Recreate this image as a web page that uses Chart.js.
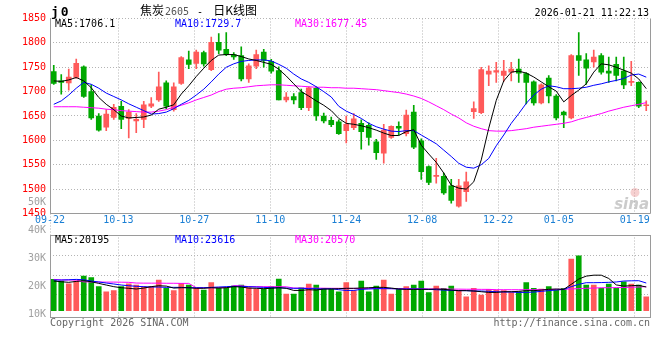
<!DOCTYPE html>
<html><head><meta charset="utf-8">
<script src="https://cdn.jsdelivr.net/npm/chart.js@4/dist/chart.umd.min.js"></script>
<style>html,body{margin:0;padding:0;background:#fff;overflow:hidden}canvas{display:block}</style>
</head><body>
<canvas id="c" width="660" height="360" style="width:660px;height:360px"></canvas>
<script>
// ---------------- data ----------------
const dates = [
 '09-22','09-23','09-24','09-25','09-26','09-29','09-30','10-09','10-10','10-13',
 '10-14','10-15','10-16','10-17','10-20','10-21','10-22','10-23','10-24','10-27',
 '10-28','10-29','10-30','10-31','11-03','11-04','11-05','11-06','11-07','11-10',
 '11-11','11-12','11-13','11-14','11-17','11-18','11-19','11-20','11-21','11-24',
 '11-25','11-26','11-27','11-28','12-01','12-02','12-03','12-04','12-05','12-08',
 '12-09','12-10','12-11','12-12','12-15','12-16','12-17','12-18','12-19','12-22',
 '12-23','12-24','12-25','12-26','12-29','12-30','12-31','01-05','01-06','01-07',
 '01-08','01-09','01-12','01-13','01-14','01-15','01-16','01-19','01-20','01-21'];
const opens = [
 1741,1722,1718,1729,1751,1700,1650,1627,1647,1670,
 1645,1640,1643,1670,1683,1718,1663,1717,1765,1758,
 1780,1745,1801,1787,1776,1774,1726,1752,1781,1762,
 1743,1683,1690,1698,1667,1707,1650,1641,1638,1620,
 1626,1635,1631,1597,1574,1606,1629,1614,1658,1599,
 1546,1526,1526,1507,1465,1495,1659,1657,1736,1740,
 1733,1740,1746,1737,1720,1677,1728,1691,1658,1646,
 1774,1765,1761,1774,1742,1756,1742,1719,1719,1671];
const highs = [
 1754,1735,1746,1767,1753,1714,1655,1663,1674,1680,
 1663,1655,1680,1688,1740,1722,1718,1772,1783,1785,
 1783,1812,1819,1821,1780,1792,1757,1785,1787,1766,
 1751,1698,1696,1705,1710,1710,1656,1648,1642,1650,
 1655,1642,1636,1602,1633,1630,1638,1662,1672,1603,
 1548,1563,1533,1520,1520,1535,1679,1750,1753,1760,
 1764,1760,1767,1739,1722,1716,1733,1694,1660,1776,
 1821,1778,1785,1778,1771,1771,1771,1762,1720,1681];
const lows = [
 1715,1695,1703,1727,1688,1643,1619,1620,1643,1624,
 1605,1616,1626,1667,1680,1665,1660,1715,1747,1747,
 1752,1743,1778,1774,1766,1722,1719,1747,1750,1738,
 1683,1679,1675,1663,1661,1641,1636,1628,1612,1595,
 1622,1582,1590,1561,1553,1604,1611,1609,1583,1520,
 1509,1512,1489,1471,1463,1475,1645,1655,1712,1719,
 1721,1722,1719,1675,1672,1675,1677,1642,1626,1644,
 1733,1715,1750,1736,1719,1722,1706,1712,1667,1661];
const closes = [
 1717,1719,1730,1758,1690,1646,1621,1654,1668,1643,
 1658,1643,1673,1675,1710,1670,1710,1770,1756,1781,
 1757,1801,1785,1776,1771,1726,1753,1776,1764,1742,
 1683,1689,1683,1667,1708,1650,1640,1632,1614,1633,
 1644,1618,1606,1575,1621,1629,1625,1652,1586,1536,
 1514,1528,1492,1477,1507,1515,1665,1745,1742,1743,
 1742,1746,1738,1719,1677,1714,1691,1646,1652,1774,
 1764,1748,1771,1740,1738,1733,1714,1721,1670,1672];
const ma5 = [
 1722,1721,1724,1729,1722,1708,1688,1674,1663,1650,
 1646,1647,1648,1652,1664,1668,1673,1695,1712,1731,
 1748,1764,1775,1776,1776,1772,1767,1764,1760,1756,
 1746,1732,1716,1700,1691,1681,1672,1661,1645,1635,
 1633,1630,1626,1621,1615,1610,1610,1618,1622,1590,
 1572,1555,1533,1508,1502,1500,1515,1560,1625,1682,
 1722,1740,1742,1738,1730,1720,1710,1701,1679,1692,
 1703,1716,1740,1757,1755,1750,1744,1738,1726,1706.1];
const ma10 = [
 1674,1681,1693,1707,1719,1715,1707,1697,1690,1683,
 1675,1668,1661,1654,1655,1658,1665,1674,1682,1693,
 1705,1720,1736,1750,1757,1762,1764,1765,1765,1763,
 1756,1748,1736,1726,1719,1710,1700,1689,1670,1660,
 1653,1645,1635,1628,1623,1619,1618,1620,1620,1611,
 1602,1593,1580,1567,1553,1545,1543,1550,1563,1589,
 1611,1635,1655,1676,1693,1705,1712,1710,1706,1706,
 1707,1709,1713,1716,1720,1723,1727,1734,1736,1729.7];
const ma30 = [
 1669,1669,1669,1669,1668,1667,1666,1664,1663,1661,
 1660,1659,1658,1658,1660,1663,1668,1672,1677,1683,
 1688,1693,1700,1705,1707,1708,1710,1712,1713,1714,
 1714,1713,1712,1711,1710,1709,1709,1708,1708,1707,
 1707,1706,1705,1704,1702,1700,1698,1695,1691,1686,
 1679,1671,1663,1654,1646,1636,1629,1624,1620,1619,
 1619,1620,1622,1624,1627,1629,1631,1633,1635,1638,
 1643,1647,1651,1655,1660,1664,1668,1671,1674,1677.45];
const volumes = [
 26700,25300,23000,25300,29600,28200,20500,16200,17100,20500,
 23000,21900,20500,20500,26200,19100,17100,23300,21900,19100,
 17600,23900,19600,19600,21000,21900,19600,18500,18500,20500,
 27000,14200,14200,19600,22800,21900,19100,18200,16200,23900,
 17100,25300,16200,21000,26200,14200,18200,20500,21900,25300,
 15400,21000,19100,21000,17100,11900,19100,13400,18200,17600,
 17100,15400,16200,23900,19100,18500,20500,17600,19100,44100,
 46900,21900,21900,19100,22800,19100,24700,22800,21900,11900];
const volMa5 = [
 25300,24700,24200,25000,25600,24700,23300,21900,20500,19600,
 19100,18500,19300,20500,21300,21000,19300,19600,19600,19100,
 19100,19600,19300,19600,20500,20200,19300,19100,18800,19100,
 19600,19100,17300,17300,17900,17600,18500,18500,18800,19100,
 19100,19300,19600,19900,19900,19300,18500,18200,18200,18200,
 18200,18500,18200,17600,17100,17100,16800,16200,15600,15600,
 16200,16200,16500,17100,17100,17600,18200,18500,18200,22500,
 27000,29500,30300,30300,27500,22000,21000,21300,21600,20195];
const volMa10 = [
 26200,26200,26400,26700,26400,25300,24500,23600,22800,21900,
 21300,20800,20500,20200,20200,19900,19900,19900,19600,19600,
 19600,19900,20200,20500,20800,20800,20500,20200,19900,19600,
 19600,19300,19100,19100,18800,18800,18500,18800,17900,17300,
 17300,18200,18500,18800,18800,18800,18500,18500,18500,18500,
 18200,17900,17600,17300,17100,17100,16800,16800,16500,16200,
 15900,15900,15600,15600,15900,16500,17100,17600,18200,20500,
 22500,23900,23900,24000,24200,24500,25300,25500,25600,23616];
const volMa30 = [
 26700,26200,26200,26100,24600,24500,24500,24400,24400,24300,
 24200,23600,23500,23500,23500,23400,23400,23300,23300,19600,
 19600,19600,19700,19700,21300,21300,20500,20500,20500,20500,
 20500,20400,19300,19300,19300,19200,19200,19100,19100,19000,
 19000,19000,18900,18900,18900,18800,18800,18800,18700,18700,
 18600,18500,18500,18400,18400,18300,18300,18200,18200,17900,
 17900,17900,17900,17900,17900,18000,18100,18200,18300,18500,
 18800,19100,19300,19600,19600,19700,19800,20000,20200,20570];
const priceTicks = [1850,1800,1750,1700,1650,1600,1550,1500,1450];
const dateTicks = ['09-22','10-13','10-27','11-10','11-24','12-08','12-22','01-05','01-19'];
const volAxisLabels = ['50K','40K','30K','20K','10K'];
const volAxisValues = [50000,40000,30000,20000,10000];
const volGridTicks = [47500,30450,13400];
const priceLegend = ['MA5:1706.1','MA10:1729.7','MA30:1677.45'];
const volLegend = ['MA5:20195','MA10:23616','MA30:20570'];
const titleParts = ['焦炭','2605',' - ','日K线图'];
const symbolText = 'j0';
const timeText = '2026-01-21 11:22:13';
const copyrightText = 'Copyright 2026 SINA.COM';
const urlText = 'http://finance.sina.com.cn';

// ---------------- layout / style ----------------
const AREA_LEFT = 50, AREA_RIGHT = 650, AREA_TOP = 18.5, AREA_BOTTOM = 317.5;
const PRICE_HIGH = 1850, PRICE_LOW = 1450, PRICE_BOTTOM_PX = 213.5;
const VOL_TOP_PX = 235, VOL_ZERO_PX = 310.7, VOL_PER_PX = 853;
const LAB_PX_PER_UNIT = 27.93/10000, LAB_REF_VAL = 30000, LAB_REF_PX = 258.3;
const LABEL_RIGHT = 46; // right edge of the left-side tick labels

const pxPerPrice = (PRICE_BOTTOM_PX - AREA_TOP)/(PRICE_HIGH - PRICE_LOW);
const priceMin = PRICE_HIGH - (AREA_BOTTOM - AREA_TOP)/pxPerPrice;
const volMax = (VOL_ZERO_PX - AREA_TOP)*VOL_PER_PX;
const volMin = -(AREA_BOTTOM - VOL_ZERO_PX)*VOL_PER_PX;
const volPanelTop = (VOL_ZERO_PX - VOL_TOP_PX)*VOL_PER_PX;
const labMax = LAB_REF_VAL + (LAB_REF_PX - AREA_TOP)/LAB_PX_PER_UNIT;
const labMin = LAB_REF_VAL - (AREA_BOTTOM - LAB_REF_PX)/LAB_PX_PER_UNIT;

const MONO = '"DejaVu Sans Mono","Liberation Mono",monospace';
const CJK = '"Noto Sans CJK SC","Noto Sans",sans-serif';
const UP = '#ff5a5a', DOWN = '#00a800';
const GRID = '#b4b4b4', FRAME = '#9a9a9a';
const MA_COLORS = ['#000000','#0000ff','#ff00ff'];
const candleColors = opens.map((o,i) => closes[i] >= o ? UP : DOWN);
const CHAR_W = 6.02; // monospace advance at 10px

function lineDs(label, data, axis, color){
  return {type:'line', label, data, xAxisID:'x', yAxisID:axis, borderColor:color,
    borderWidth:1, pointRadius:0, tension:0, fill:false, order:0};
}
const zeroWidth = (s) => { s.width = 0; };
// mirrored labels (not clipped) placed left of the plot, left-aligned so right edge ≈ LABEL_RIGHT
const leftPad = (chars) => -(AREA_LEFT - (LABEL_RIGHT - chars*CHAR_W));

const panels = {
  id:'panels',
  beforeDraw(chart){
    const c = chart.ctx; c.save(); c.fillStyle='#fff'; c.fillRect(0,0,chart.width,chart.height); c.restore();
  },
  beforeDatasetsDraw(chart){
    const {ctx, chartArea:a, scales} = chart;
    const y1 = scales.y.getPixelForValue(PRICE_LOW), y2 = scales.yv.getPixelForValue(volPanelTop);
    ctx.save(); ctx.fillStyle='#fff';
    ctx.fillRect(a.left+1, Math.floor(y1)+1, a.right-a.left, Math.floor(y2)-Math.floor(y1)-1);
    ctx.restore();
  },
  afterDatasetsDraw(chart){
    const {ctx, chartArea:a, scales} = chart;
    const L = Math.floor(a.left)+0.5, R = Math.floor(a.right)+0.5;
    const top = Math.floor(scales.y.getPixelForValue(PRICE_HIGH))+0.5;
    const yb = Math.floor(scales.y.getPixelForValue(PRICE_LOW))+0.5;
    const vt = Math.floor(scales.yv.getPixelForValue(volPanelTop))+0.5;
    const vb = Math.floor(a.bottom)+0.5;
    ctx.save(); ctx.strokeStyle = FRAME; ctx.lineWidth = 1;
    ctx.beginPath();
    ctx.moveTo(L, top); ctx.lineTo(L, yb); ctx.lineTo(R, yb); ctx.lineTo(R, top);
    ctx.stroke();
    ctx.strokeRect(L, vt, R-L, vb-vt);
    ctx.restore();
  },
  afterDraw(chart){
    const {ctx, chartArea:a, scales} = chart;
    ctx.save();
    ctx.textBaseline = 'alphabetic'; ctx.textAlign = 'left';
    ctx.fillStyle = '#000'; ctx.font = 'bold 13px '+MONO;
    ctx.letterSpacing = '2px';
    ctx.fillText(symbolText, 51, 15.5);
    ctx.letterSpacing = '0px';
    let x = 140;
    ctx.font = '12px '+CJK; ctx.fillStyle='#000'; ctx.fillText(titleParts[0], x, 15); x += ctx.measureText(titleParts[0]).width + 1;
    ctx.font = '10px '+MONO; ctx.fillStyle='#555'; ctx.fillText(titleParts[1], x, 15); x += ctx.measureText(titleParts[1]).width;
    ctx.fillStyle='#000'; ctx.fillText(titleParts[2], x+2, 15); x += ctx.measureText(titleParts[2]).width + 6;
    ctx.font = '12px '+CJK; ctx.fillText(titleParts[3], x, 15);
    ctx.font = '10px '+MONO; ctx.textAlign='right'; ctx.fillStyle='#000';
    ctx.fillText(timeText, 649, 15.5);
    ctx.textAlign='left';
    const lx = [a.left+5, a.left+125, a.left+245];
    const yTop = scales.y.getPixelForValue(PRICE_HIGH);
    const vTop = scales.yv.getPixelForValue(volPanelTop);
    priceLegend.forEach((t,i)=>{ ctx.fillStyle = MA_COLORS[i]; ctx.fillText(t, lx[i], yTop+8.8); });
    volLegend.forEach((t,i)=>{ ctx.fillStyle = MA_COLORS[i]; ctx.fillText(t, lx[i], vTop+7.5); });
    ctx.fillStyle = '#666';
    ctx.fillText(copyrightText, a.left, 326);
    ctx.textAlign='right';
    ctx.fillText(urlText, a.right, 326);
    const wy = scales.y.getPixelForValue(PRICE_LOW);
    ctx.fillStyle = 'rgba(235,150,150,0.45)';
    ctx.beginPath(); ctx.arc(a.right-15, wy-21, 4.5, 0, Math.PI*2); ctx.fill();
    ctx.fillStyle = 'rgba(160,160,160,0.55)';
    ctx.font = 'italic bold 15px "DejaVu Sans",sans-serif';
    ctx.fillText('sina', a.right-1, wy-5);
    ctx.restore();
  }
};

new Chart(document.getElementById('c').getContext('2d'), {
  type:'bar',
  data:{
    labels: dates,
    datasets:[
      lineDs('MA5', ma5, 'y', MA_COLORS[0]),
      lineDs('MA10', ma10, 'y', MA_COLORS[1]),
      lineDs('MA30', ma30, 'y', MA_COLORS[2]),
      {label:'body', data: opens.map((o,i)=>[o, closes[i]]), backgroundColor: candleColors,
        xAxisID:'x', yAxisID:'y', barThickness:5, grouped:false, minBarLength:1, borderWidth:0, order:1},
      {label:'wick', data: lows.map((l,i)=>[l, highs[i]]), backgroundColor: candleColors,
        xAxisID:'x', yAxisID:'y', barThickness:1, grouped:false, borderWidth:0, order:2},
      lineDs('VMA5', volMa5, 'yv', MA_COLORS[0]),
      lineDs('VMA10', volMa10, 'yv', MA_COLORS[1]),
      lineDs('VMA30', volMa30, 'yv', MA_COLORS[2]),
      {label:'volume', data: volumes, backgroundColor: candleColors,
        xAxisID:'x', yAxisID:'yv', barThickness:5, grouped:false, borderWidth:0, order:3}
    ]
  },
  options:{
    responsive:false, animation:false, devicePixelRatio:1, events:[],
    layout:{padding:{left:AREA_LEFT, right:660-AREA_RIGHT, top:AREA_TOP, bottom:360-AREA_BOTTOM}},
    plugins:{legend:{display:false}, tooltip:{enabled:false}, title:{display:false}},
    scales:{
      x:{type:'category', display:false, offset:true},
      xd:{type:'linear', axis:'x', min:0, max:dates.length-1, position:{y:PRICE_LOW}, offset:false,
        grid:{color:GRID, drawTicks:false, z:-1, offset:false}, border:{display:false, dash:[1,2]},
        ticks:{z:1, color:'#1a7fd4', font:{family:MONO, size:10}, padding:1, autoSkip:false, maxRotation:0,
          callback:(v)=>dates[v]},
        afterBuildTicks:(s)=>{ s.ticks = dateTicks.map(d=>({value:dates.indexOf(d)})); }},
      y:{type:'linear', position:'left', min:priceMin, max:PRICE_HIGH,
        grid:{color:GRID, drawTicks:false}, border:{display:false, dash:[1,2]},
        ticks:{color:'#ff0000', font:{family:MONO, size:10}, mirror:true, padding:leftPad(4), autoSkip:false,
          callback:(v)=>String(v)},
        afterBuildTicks:(s)=>{ s.ticks = priceTicks.map(v=>({value:v})); },
        afterFit: zeroWidth},
      yv:{type:'linear', position:'left', min:volMin, max:volMax,
        grid:{color:GRID, drawTicks:false}, border:{display:false, dash:[1,2]},
        ticks:{display:false},
        afterBuildTicks:(s)=>{ s.ticks = volGridTicks.map(v=>({value:v})); },
        afterFit: zeroWidth},
      yl:{type:'linear', position:'left', min:labMin, max:labMax,
        grid:{display:false}, border:{display:false},
        ticks:{color:'#a0a0a0', font:{family:MONO, size:10}, mirror:true, padding:leftPad(3), autoSkip:false,
          callback:(v,i)=>volAxisLabels[i]},
        afterBuildTicks:(s)=>{ s.ticks = volAxisValues.map(v=>({value:v})); },
        afterFit: zeroWidth}
    }
  },
  plugins:[panels]
});
</script>
</body></html>
